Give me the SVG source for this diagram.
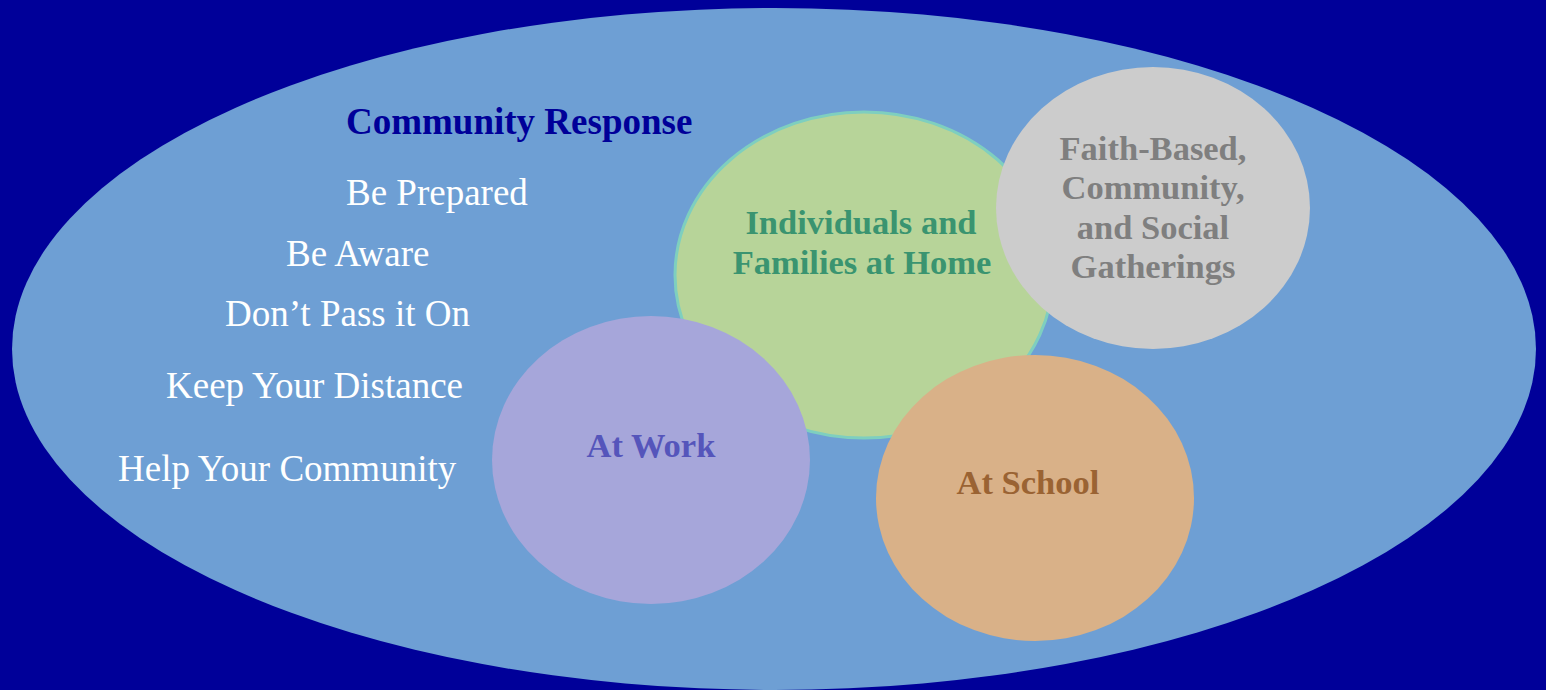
<svg xmlns="http://www.w3.org/2000/svg" width="1546" height="690" viewBox="0 0 1546 690">
<style>
.item{font-family:"Liberation Serif","Times New Roman",serif;font-size:37px;fill:#ffffff}
.lbl{font-family:"Liberation Serif","Times New Roman",serif;font-size:34.5px;font-weight:bold;text-anchor:middle}
</style>
<rect width="1546" height="690" fill="#000099"/>
<g id="community">
<ellipse cx="774" cy="349" rx="762" ry="341" fill="#6e9fd4"/>
<text x="346" y="134" font-family="Liberation Serif, Times New Roman, serif" font-size="37" font-weight="bold" fill="#000099">Community Response</text>
<text class="item" x="346" y="205">Be Prepared</text>
<text class="item" x="286" y="266">Be Aware</text>
<text class="item" x="225" y="326">Don’t Pass it On</text>
<text class="item" x="166" y="398">Keep Your Distance</text>
<text class="item" x="118" y="481">Help Your Community</text>
</g>
<g id="home">
<ellipse cx="864" cy="275" rx="189" ry="163" fill="#b7d499" stroke="#7ecfbf" stroke-width="3"/>
<text class="lbl" fill="#3a9470"><tspan x="861" y="234">Individuals and</tspan><tspan x="862" y="274">Families at Home</tspan></text>
</g>
<g id="faith">
<ellipse cx="1153" cy="208" rx="157" ry="141" fill="#cccccc"/>
<text class="lbl" fill="#7f7f7f"><tspan x="1153" y="160">Faith-Based,</tspan><tspan x="1153" y="199">Community,</tspan><tspan x="1153" y="239">and Social</tspan><tspan x="1153" y="278">Gatherings</tspan></text>
</g>
<g id="work">
<ellipse cx="651" cy="460" rx="159" ry="144" fill="#a6a6da"/>
<text class="lbl" fill="#5555bb" x="651" y="457">At Work</text>
</g>
<g id="school">
<ellipse cx="1035" cy="498" rx="159" ry="143" fill="#d9b188"/>
<text class="lbl" fill="#9a6333" x="1028" y="494">At School</text>
</g>
<g id="connectors"/>
</svg>
